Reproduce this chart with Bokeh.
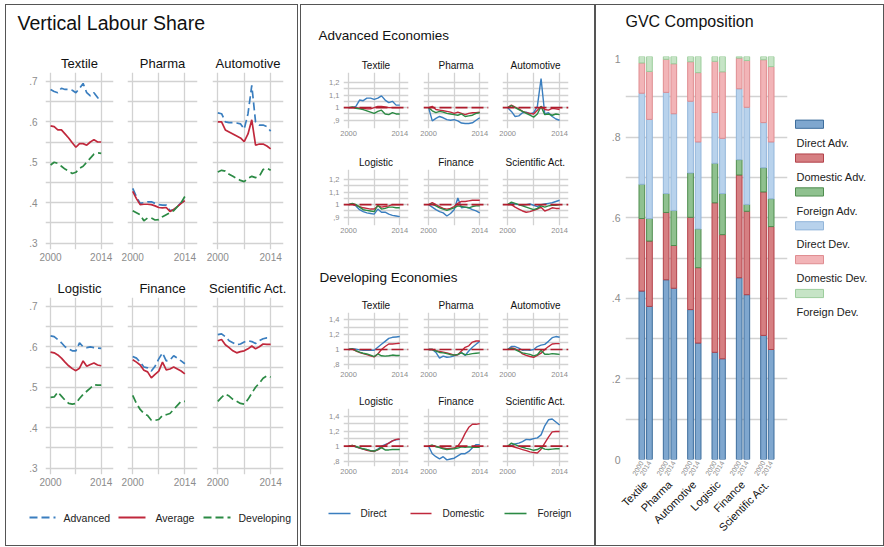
import math
from bokeh.plotting import figure
from bokeh.layouts import row, column
from bokeh.models import Range1d, FixedTicker, FactorRange, Span, ColumnDataSource, Spacer
from bokeh.embed import file_html
from bokeh.resources import INLINE
from bokeh.core.properties import value

FONT = "Liberation Sans"
YEARS = list(range(2000, 2015))
SECTORS = ["Textile", "Pharma", "Automotive", "Logistic", "Finance", "Scientific Act."]

# ---------------- Vertical Labour Share (one list per sector, in SECTORS order) ----------------
VLS_ADVANCED = [
    [.680, .675, .672, .683, .680, .680, .678, .672, .683, .695, .672, .664, .672, .660, .650],
    [.435, .415, .398, .400, .402, .402, .398, .395, .394, .394, .380, .382, .390, .400, .405],
    [.622, .620, .600, .598, .598, .597, .595, .582, .620, .690, .600, .592, .592, .588, .577],
    [.627, .625, .618, .610, .600, .595, .590, .590, .610, .600, .598, .600, .598, .597, .596],
    [.576, .572, .562, .550, .548, .540, .552, .570, .585, .565, .567, .578, .572, .565, .558],
    [.630, .632, .625, .615, .610, .605, .607, .612, .615, .613, .608, .615, .620, .622, .622],
]
VLS_AVERAGE = [
    [.590, .588, .580, .580, .570, .560, .548, .537, .546, .546, .542, .550, .556, .550, .550],
    [.428, .410, .395, .396, .396, .395, .392, .388, .387, .388, .378, .383, .390, .398, .405],
    [.600, .600, .580, .575, .570, .565, .560, .551, .570, .605, .542, .545, .545, .540, .533],
    [.587, .585, .580, .572, .562, .553, .546, .541, .547, .565, .552, .556, .560, .555, .553],
    [.568, .562, .555, .542, .538, .523, .532, .540, .562, .543, .545, .550, .545, .540, .533],
    [.615, .618, .605, .598, .590, .585, .588, .590, .595, .602, .595, .600, .607, .606, .606],
]
VLS_DEVELOPING = [
    [.493, .500, .497, .490, .483, .478, .472, .475, .485, .490, .500, .510, .520, .523, .522],
    [.380, .375, .370, .355, .362, .362, .357, .358, .365, .370, .375, .380, .390, .400, .415],
    [.476, .480, .478, .470, .465, .460, .455, .452, .460, .465, .462, .465, .482, .485, .480],
    [.475, .476, .488, .478, .468, .460, .458, .460, .472, .482, .490, .498, .506, .505, .505],
    [.480, .460, .445, .435, .430, .418, .418, .420, .430, .432, .435, .445, .455, .465, .465],
    [.465, .475, .483, .478, .470, .465, .460, .458, .470, .485, .500, .510, .522, .528, .525],
]
VLS_SERIES = ["Advanced", "Average", "Developing"]

# ---------------- Advanced economies (index, 2000 = 1) ----------------
ADV_DIRECT = [
    [1.0, 1.0, 1.01, 1.06, 1.055, 1.075, 1.075, 1.065, 1.075, 1.093, 1.06, 1.04, 1.05, 1.02, 1.02],
    [1.0, .895, .915, .93, .92, .905, .90, .905, .895, .878, .875, .875, .88, .90, .92],
    [1.0, .97, .93, .935, .96, .965, .95, .96, 1.01, 1.23, .95, .96, .93, .91, .90],
    [1.0, 1.005, .99, .96, .945, .935, .93, .925, .965, .94, .94, .925, .915, .91, .905],
    [1.0, .98, .96, .945, .935, .91, .93, .96, 1.053, .975, .98, .975, .96, .95, .935],
    [1.0, 1.01, 1.005, 1.0, .995, 1.0, 1.005, .995, .985, 1.0, 1.005, 1.01, 1.015, 1.025, 1.035],
]
ADV_DOMESTIC = [
    [1.0, 1.0, 1.0, .995, .995, .99, .99, 1.0, 1.01, 1.01, 1.005, 1.0, 1.0, 1.0, 1.0],
    [1.0, 1.01, .985, .98, .975, .97, .965, .955, .965, .955, .945, .955, .96, .96, .965],
    [1.0, 1.02, 1.005, .99, .97, .96, .955, .95, .98, 1.01, .985, .98, .995, .99, .985],
    [1.0, 1.005, .995, .985, .975, .97, .965, .965, .99, .98, .985, .99, 1.0, 1.0, 1.0],
    [1.0, 1.015, 1.0, .985, .97, .965, .97, .985, 1.01, 1.025, 1.025, 1.03, 1.035, 1.035, 1.035],
    [1.0, 1.0, .98, .965, .95, .94, .945, .955, .965, .98, .95, .96, .975, .97, .97],
]
ADV_FOREIGN = [
    [1.0, 1.005, .995, .99, .985, .975, .965, .955, .97, .98, .95, .945, .96, .95, .95],
    [1.0, .975, .96, .97, .965, .955, .95, .945, .94, .95, .93, .935, .94, .955, .96],
    [1.0, 1.015, 1.0, .985, .97, .955, .94, .925, .95, 1.01, .945, .95, .94, .95, .945],
    [1.0, 1.01, 1.0, .98, .96, .955, .95, .945, .995, .965, .97, .98, .98, .975, .975],
    [1.0, 1.005, .99, .975, .965, .955, .965, .975, .99, .985, .98, .975, .985, .99, .99],
    [1.0, 1.02, 1.01, 1.0, .99, .98, .97, .96, .97, .99, .98, .99, .995, .995, 1.0],
]
# ---------------- Developing economies ----------------
DEV_DIRECT = [
    [1.0, 1.01, 1.005, .995, .99, .99, .99, .99, 1.03, 1.07, 1.11, 1.15, 1.165, 1.17, 1.175],
    [1.0, 1.0, .96, .883, .91, .895, .90, .915, .93, .96, .92, .98, 1.03, 1.07, 1.11],
    [1.0, 1.04, 1.04, 1.02, .99, .995, .99, 1.0, 1.04, 1.06, 1.07, 1.11, 1.16, 1.175, 1.165],
    [1.0, 1.005, .99, .975, .96, .95, .94, .935, .96, 1.0, 1.02, 1.04, 1.07, 1.085, 1.09],
    [1.0, .90, .86, .83, .86, .818, .83, .84, .87, .90, .90, .93, .98, 1.02, 1.02],
    [1.0, 1.01, 1.03, 1.04, 1.06, 1.09, 1.085, 1.10, 1.11, 1.15, 1.27, 1.35, 1.36, 1.32, 1.28],
]
DEV_DOMESTIC = [
    [1.0, 1.005, .98, .96, .945, .93, .915, .90, .94, 1.0, 1.04, 1.075, 1.075, 1.08, 1.085],
    [1.0, 1.0, .985, .975, .965, .955, .94, .925, .93, .98, 1.03, 1.05, 1.10, 1.115, 1.115],
    [1.0, 1.02, 1.01, .985, .94, .92, .905, .895, .92, .95, 1.0, 1.04, 1.075, 1.08, 1.08],
    [1.0, 1.01, .99, .975, .96, .945, .935, .93, .95, .98, 1.01, 1.04, 1.07, 1.09, 1.095],
    [1.0, 1.005, .995, .985, .975, .965, .97, .975, 1.0, 1.07, 1.17, 1.25, 1.29, 1.29, 1.30],
    [1.0, 1.0, .985, .97, .955, .94, .925, .915, .91, .96, 1.04, 1.12, 1.19, 1.195, 1.195],
]
DEV_FOREIGN = [
    [1.0, 1.01, .985, .965, .95, .94, .925, .905, .94, .915, .91, .915, .925, .92, .92],
    [1.0, 1.0, .98, .96, .955, .945, .93, .925, .935, .955, .93, .935, .945, .95, .955],
    [1.0, 1.015, 1.0, .975, .955, .945, .935, .915, .93, .99, .935, .935, .945, .94, .935],
    [1.0, 1.01, .995, .98, .965, .955, .94, .935, .955, .98, .95, .95, .955, .955, .955],
    [1.0, 1.015, .995, .98, .965, .955, .96, .965, .975, .99, .985, .99, .985, .985, .985],
    [1.0, 1.04, 1.02, 1.0, .985, .97, .96, .945, .955, .985, .96, .955, .96, .965, .965],
]
COMP_SERIES = ["Direct", "Domestic", "Foreign"]

# ---------------- GVC composition (bars: sector x year) ----------------
GVC_YEARS = ["2000", "2014"]
GVC_LABELS = ["Direct Adv.", "Domestic Adv.", "Foreign Adv.", "Direct Dev.", "Domestic Dev.", "Foreign Dev."]
DIRECT_ADV = [.418, .380, .446, .425, .372, .289, .266, .250, .451, .409, .308, .273]
DOMESTIC_ADV = [.180, .162, .167, .106, .229, .187, .371, .308, .255, .207, .356, .305]
FOREIGN_ADV = [.085, .056, .047, .087, .110, .096, .098, .102, .038, .017, .060, .069]
DIRECT_DEV = [.226, .246, .251, .240, .178, .216, .126, .137, .176, .241, .112, .141]
DOMESTIC_DEV = [.075, .119, .082, .124, .098, .172, .127, .165, .076, .116, .156, .187]
FOREIGN_DEV = [.016, .037, .007, .018, .013, .040, .012, .038, .004, .010, .008, .025]

# ---------------- styles ----------------
BLUE = "#3a7ebf"
RED = "#c0283c"
GREEN = "#2b8a44"
REF_RED = "#b01c2c"
GRID = "#d2d2d2"
TICK = "#8c8c8c"
BAR_FILL = ["#7fa7cf", "#d67f82", "#8fc18f", "#b8d2ec", "#f2b4b7", "#c6e4c6"]
BAR_LINE = ["#3d6d9c", "#b3424a", "#4f8d4f", "#93b6da", "#df8c90", "#9ccd9c"]
BORDER = {"border": "1px solid #555555"}


def blank(w, h):
    p = figure(width=w, height=h, x_range=Range1d(0, w), y_range=Range1d(h, 0),
               toolbar_location=None, output_backend="svg",
               x_axis_location=None, y_axis_location=None, min_border=0)
    p.outline_line_color = None
    p.xgrid.visible = False
    p.ygrid.visible = False
    return p


def header(w, h, txt, x, y, size):
    p = blank(w, h)
    p.text(x=[x], y=[y], text=[txt], text_font=value(FONT), text_font_size=size,
           text_baseline="middle", text_align="left", text_color="#111111")
    return p


def facet(name, show_y, w, h, bl, br, bt, bb, xr, yr, ygrid, ylabels,
          title_size, tick_size, title_standoff, ylab_standoff, xlab_standoff):
    p = figure(width=w, height=h, x_range=Range1d(*xr), y_range=Range1d(*yr),
               toolbar_location=None, output_backend="svg",
               y_axis_location="left" if show_y else None,
               min_border_left=bl, min_border_right=br,
               min_border_top=bt, min_border_bottom=bb, title=name)
    p.outline_line_color = None
    p.title.align = "center"
    p.title.text_font = FONT
    p.title.text_font_size = title_size
    p.title.text_font_style = "normal"
    p.title.text_color = "#111111"
    p.title.standoff = title_standoff
    p.xaxis.ticker = FixedTicker(ticks=[2000, 2014])
    p.xgrid.ticker = FixedTicker(ticks=[2000, 2007, 2014])
    p.ygrid.ticker = FixedTicker(ticks=ygrid)
    if show_y:
        ticks = list(ylabels.keys())
        p.yaxis.ticker = FixedTicker(ticks=ticks)
        p.yaxis.major_label_overrides = ylabels
        p.yaxis.major_label_standoff = ylab_standoff
    for g in (p.xgrid, p.ygrid):
        g.grid_line_color = GRID
        g.grid_line_width = 1.3
    for ax in p.axis:
        ax.axis_line_color = None
        ax.major_tick_line_color = None
        ax.minor_tick_line_color = None
        ax.major_tick_out = 0
        ax.major_tick_in = 0
        ax.major_label_text_color = TICK
        ax.major_label_text_font = FONT
        ax.major_label_text_font_size = tick_size
    p.xaxis.major_label_standoff = xlab_standoff
    return p


# ================= LEFT PANEL (inner 291 x 540) =================
VLS_YGRID = [.30, .35, .40, .45, .50, .55, .60, .65, .70]
VLS_YLAB = {0.3: ".3", 0.4: ".4", 0.5: ".5", 0.6: ".6", 0.7: ".7"}
VLS_STY = [(BLUE, "8 4"), (RED, "solid"), (GREEN, "8 4")]
left_cols = [(113, 39, 6), (86, 8, 8), (92, 7, 14)]
left_rows = []
for r in range(2):
    figs = []
    for c in range(3):
        i = r * 3 + c
        w, bl, br = left_cols[c]
        p = facet(SECTORS[i], c == 0, w, 225, bl, br, 22, 26, (1998.6, 2017.4), (.284, .722),
                  VLS_YGRID, VLS_YLAB, "13px", "10px", 3, 8, 3)
        for vals, (col, dash) in zip([VLS_ADVANCED[i], VLS_AVERAGE[i], VLS_DEVELOPING[i]], VLS_STY):
            p.line(YEARS, vals, line_color=col, line_width=1.7, line_dash=dash)
        figs.append(p)
    left_rows.append(row(*figs))

leg_l = blank(291, 45)
for (x0, x1, xt), lab, (col, dash) in zip([(23, 49, 57), (112, 139, 149), (197, 224, 232)], VLS_SERIES, VLS_STY):
    leg_l.line([x0, x1], [17, 17], line_color=col, line_width=1.8, line_dash=dash)
    leg_l.text(x=[xt], y=[17], text=[lab], text_font=value(FONT), text_font_size="10.5px",
               text_baseline="middle", text_color="#222222")

left_panel = column(header(291, 45, "Vertical Labour Share", 11, 17, "19.5px"),
                    left_rows[0], left_rows[1], leg_l, styles=BORDER)

# ================= MIDDLE PANEL (inner 293 x 540) =================
ADV_YGRID = [.90, .95, 1.0, 1.05, 1.10, 1.15, 1.20]
ADV_YLAB = {1.2: "1,2", 1.1: "1,1", 1.0: "1", 0.9: ",9"}
DEV_YGRID = [.8, .9, 1.0, 1.1, 1.2, 1.3, 1.4]
DEV_YLAB = {1.4: "1,4", 1.2: "1,2", 1.0: "1", 0.8: ",8"}
mid_cols = [(114, 42, 7), (80, 8, 7), (99, 7, 26)]
COMP_COLORS = [BLUE, RED, GREEN]


def mid_row(series, rowidx, fh, bb, yr, ygrid, ylab):
    figs = []
    for c in range(3):
        i = rowidx * 3 + c
        w, bl, br = mid_cols[c]
        p = facet(SECTORS[i], c == 0, w, 17 + fh + bb, bl, br, 17, bb, (1998.6, 2016.4), yr,
                  ygrid, ylab, "10px", "7.5px", 4, 4, 2)
        for s, col in zip(series, COMP_COLORS):
            p.line(YEARS, s[i], line_color=col, line_width=1.4)
        p.add_layout(Span(location=1.0, dimension="width", line_color=REF_RED,
                          line_width=1.6, line_dash="12 4"))
        figs.append(p)
    return row(*figs)


adv = [ADV_DIRECT, ADV_DOMESTIC, ADV_FOREIGN]
dev = [DEV_DIRECT, DEV_DOMESTIC, DEV_FOREIGN]
leg_m = blank(293, 59)
for (x0, x1, xt), lab, col in zip([(27, 49, 59), (109, 130, 141), (203, 225, 236)], COMP_SERIES, COMP_COLORS):
    leg_m.line([x0, x1], [27, 27], line_color=col, line_width=1.6)
    leg_m.text(x=[xt], y=[27], text=[lab], text_font=value(FONT), text_font_size="10px",
               text_baseline="middle", text_color="#222222")

mid_panel = column(header(293, 50, "Advanced Economies", 17, 29.5, "13.5px"),
                   mid_row(adv, 0, 56, 24, (.835, 1.278), ADV_YGRID, ADV_YLAB),
                   mid_row(adv, 1, 56, 20, (.835, 1.278), ADV_YGRID, ADV_YLAB),
                   header(293, 50, "Developing Economies", 18, 31.5, "13.5px"),
                   mid_row(dev, 0, 57, 22, (.73, 1.5), DEV_YGRID, DEV_YLAB),
                   mid_row(dev, 1, 58, 20, (.73, 1.5), DEV_YGRID, DEV_YLAB),
                   leg_m, styles=BORDER)

# ================= RIGHT PANEL (inner 287 x 540) =================
factors = [(s, y) for s in SECTORS for y in GVC_YEARS]
KEYS = ["direct_adv", "domestic_adv", "foreign_adv", "direct_dev", "domestic_dev", "foreign_dev"]
src = ColumnDataSource(dict(x=factors, direct_adv=DIRECT_ADV, domestic_adv=DOMESTIC_ADV,
                            foreign_adv=FOREIGN_ADV, direct_dev=DIRECT_DEV,
                            domestic_dev=DOMESTIC_DEV, foreign_dev=FOREIGN_DEV))
bar = figure(width=193, height=491,
             x_range=FactorRange(*factors, group_padding=1.2, range_padding=1.65,
                                 range_padding_units="absolute"),
             y_range=Range1d(0, 1.0), toolbar_location=None, output_backend="svg",
             min_border_left=29, min_border_right=2, min_border_top=2, min_border_bottom=86)
bar.outline_line_color = None
bar.vbar_stack(KEYS, x="x", width=0.75, source=src, fill_color=BAR_FILL,
               line_color=BAR_LINE, line_width=1)
bar.xgrid.visible = False
bar.ygrid.ticker = FixedTicker(ticks=[0, .1, .2, .3, .4, .5, .6, .7, .8, .9, 1.0])
bar.ygrid.grid_line_color = GRID
bar.ygrid.grid_line_width = 1.3
BAR_YLAB = {0: "0", 0.2: ".2", 0.4: ".4", 0.6: ".6", 0.8: ".8", 1.0: "1"}
bar.yaxis.ticker = FixedTicker(ticks=list(BAR_YLAB.keys()))
bar.yaxis.major_label_overrides = BAR_YLAB
for ax in bar.axis:
    ax.axis_line_color = None
    ax.major_tick_line_color = None
    ax.minor_tick_line_color = None
    ax.major_tick_out = 0
    ax.major_tick_in = 0
    ax.major_label_text_color = TICK
    ax.major_label_text_font = FONT
bar.yaxis.major_label_text_font_size = "10.5px"
bar.yaxis.major_label_standoff = 5
xa = bar.xaxis[0]
xa.major_label_text_font_size = "7px"
xa.major_label_orientation = math.pi / 3
xa.major_label_standoff = 2
xa.group_label_orientation = math.pi / 4
xa.group_text_font = FONT
xa.group_text_font_size = "11px"
xa.group_text_font_style = "normal"
xa.group_text_color = "#111111"
xa.separator_line_color = None

leg_r = blank(94, 491)
sw_y = [82.5 + 41.25 * k for k in range(6)]
leg_r.quad(left=[6] * 6, right=[34] * 6, top=[y - 5 for y in sw_y], bottom=[y + 5 for y in sw_y],
           fill_color=BAR_FILL, line_color=BAR_LINE, line_width=1)
leg_r.text(x=[7] * 6, y=[y + 22.8 for y in sw_y], text=GVC_LABELS, text_font=value(FONT),
           text_font_size="11px", text_baseline="middle", text_color="#222222")

right_panel = column(header(287, 49, "GVC Composition", 29, 15.7, "16px"),
                     row(bar, leg_r), styles=BORDER)

layout = column(Spacer(width=10, height=4),
                row(Spacer(width=5, height=10), left_panel, Spacer(width=2, height=10),
                    mid_panel, right_panel))
open("out.html", "w").write(file_html(layout, INLINE))
